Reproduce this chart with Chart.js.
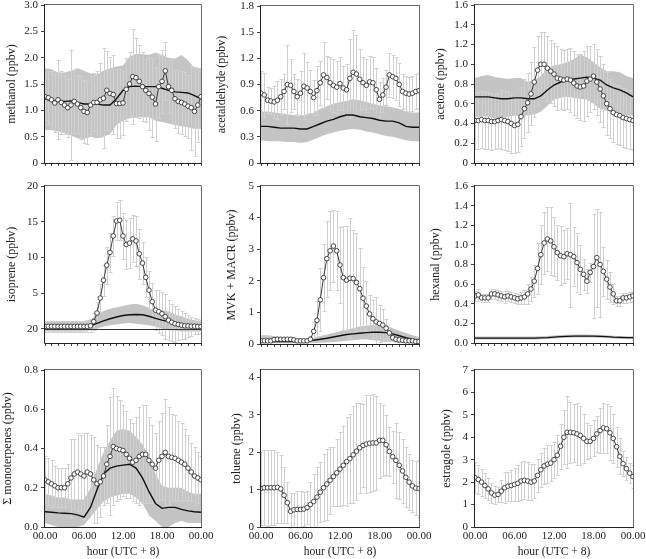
<!DOCTYPE html>
<html><head><meta charset="utf-8">
<script src="https://cdn.jsdelivr.net/npm/chart.js"></script>
<style>
html,body{margin:0;padding:0;background:#fff;width:646px;height:559px;overflow:hidden;position:relative}
canvas{position:absolute}
</style></head>
<body>
<script>
// ---- categories ----
const halfHours = [0,0.5,1,1.5,2,2.5,3,3.5,4,4.5,5,5.5,6,6.5,7,7.5,8,8.5,9,9.5,10,10.5,11,11.5,12,12.5,13,13.5,14,14.5,15,15.5,16,16.5,17,17.5,18,18.5,19,19.5,20,20.5,21,21.5,22,22.5,23,23.5,24];
const hours = [0,1,2,3,4,5,6,7,8,9,10,11,12,13,14,15,16,17,18,19,20,21,22,23,24];
const xTickVals = [0,6,12,18,24];
const xTickLabels = ['00.00','06.00','12.00','18.00','00.00'];
const xTitle = 'hour (UTC + 8)';

// ---- methanol ----
const methanolObs = [1.26,1.24,1.20,1.14,1.20,1.15,1.10,1.05,1.10,1.17,1.12,1.05,0.98,0.96,1.10,1.15,1.15,1.20,1.23,1.38,1.32,1.30,1.13,1.13,1.14,1.40,1.50,1.64,1.62,1.55,1.45,1.38,1.32,1.25,1.12,1.45,1.55,1.75,1.45,1.38,1.22,1.17,1.15,1.12,1.08,1.05,0.98,1.10,1.26];
const methanolErr = [0.45,0.5,0.55,0.55,0.75,0.6,0.55,0.55,1.05,0.6,0.55,0.6,0.6,0.6,0.55,0.55,0.6,0.7,0.95,0.75,0.7,0.75,0.65,0.65,0.6,0.6,0.6,0.9,0.75,0.7,0.65,0.6,0.7,0.75,0.7,0.6,0.6,0.55,0.5,0.6,0.55,0.6,0.6,0.6,0.6,0.8,0.85,0.7,0.5];
const methanolModel = [1.22,1.18,1.17,1.17,1.18,1.15,1.12,1.12,1.12,1.10,1.10,1.22,1.38,1.45,1.46,1.45,1.45,1.45,1.42,1.38,1.35,1.34,1.33,1.28,1.22];
const methanolHi = [1.80,1.78,1.72,1.72,1.75,1.80,1.75,1.70,1.68,1.75,1.80,1.83,1.85,2.02,2.07,2.07,2.05,2.10,2.05,2.00,1.98,2.05,1.95,1.80,1.80];
const methanolLo = [0.63,0.62,0.60,0.57,0.52,0.47,0.45,0.50,0.47,0.50,0.55,0.72,0.80,0.85,0.87,0.87,0.87,0.80,0.78,0.75,0.72,0.70,0.68,0.65,0.65];
const methanolTickVals = [0,0.5,1,1.5,2,2.5,3];
const methanolTickLabels = ['0','0.5','1.0','1.5','2.0','2.5','3.0'];

// ---- acetaldehyde ----
const acetaldehydeObs = [0.80,0.78,0.72,0.71,0.70,0.72,0.76,0.82,0.90,0.89,0.82,0.76,0.80,0.88,0.86,0.82,0.75,0.83,0.92,1.01,0.98,0.92,0.89,0.87,0.91,0.86,0.84,0.97,1.04,1.02,0.96,0.92,0.89,0.93,0.92,0.84,0.73,0.78,0.87,1.01,0.99,0.97,0.90,0.82,0.80,0.79,0.80,0.82,0.83];
const acetaldehydeErr = [0.25,0.25,0.15,0.15,0.18,0.22,0.2,0.2,0.45,0.3,0.2,0.2,0.25,0.38,0.3,0.25,0.2,0.28,0.25,0.38,0.25,0.3,0.3,0.3,0.3,0.25,0.3,0.45,0.48,0.45,0.35,0.3,0.3,0.3,0.3,0.25,0.2,0.2,0.2,0.25,0.25,0.25,0.25,0.2,0.2,0.2,0.2,0.2,0.2];
const acetaldehydeModel = [0.42,0.42,0.41,0.40,0.40,0.40,0.39,0.39,0.42,0.45,0.48,0.50,0.53,0.55,0.55,0.53,0.52,0.51,0.49,0.48,0.48,0.46,0.42,0.41,0.41];
const acetaldehydeHi = [0.59,0.59,0.58,0.57,0.56,0.55,0.54,0.55,0.58,0.62,0.65,0.68,0.70,0.71,0.73,0.72,0.70,0.68,0.66,0.65,0.64,0.62,0.59,0.58,0.58];
const acetaldehydeLo = [0.26,0.25,0.25,0.25,0.24,0.24,0.23,0.24,0.27,0.30,0.33,0.35,0.37,0.38,0.39,0.38,0.36,0.35,0.33,0.31,0.30,0.28,0.26,0.25,0.25];
const acetaldehydeTickVals = [0,0.3,0.6,0.9,1.2,1.5,1.8];
const acetaldehydeTickLabels = ['0','0.3','0.6','0.9','1.2','1.5','1.8'];

// ---- acetone ----
const acetoneObs = [0.43,0.43,0.44,0.43,0.43,0.42,0.42,0.43,0.44,0.43,0.42,0.40,0.38,0.39,0.47,0.55,0.61,0.70,0.82,0.94,1.00,1.00,0.96,0.93,0.90,0.86,0.85,0.84,0.85,0.84,0.81,0.78,0.77,0.78,0.83,0.85,0.88,0.82,0.75,0.68,0.60,0.55,0.51,0.49,0.48,0.46,0.45,0.44,0.43];
const acetoneErr = [0.29,0.29,0.29,0.29,0.29,0.29,0.28,0.28,0.3,0.3,0.3,0.3,0.28,0.28,0.3,0.3,0.3,0.32,0.35,0.35,0.33,0.33,0.33,0.32,0.32,0.32,0.3,0.3,0.3,0.32,0.32,0.32,0.33,0.35,0.35,0.33,0.33,0.33,0.33,0.32,0.32,0.3,0.3,0.3,0.3,0.3,0.3,0.3,0.3];
const acetoneModel = [0.67,0.67,0.67,0.66,0.65,0.65,0.66,0.66,0.65,0.65,0.68,0.74,0.79,0.82,0.84,0.85,0.86,0.87,0.86,0.84,0.79,0.76,0.74,0.71,0.67];
const acetoneHi = [0.86,0.88,0.89,0.87,0.86,0.85,0.86,0.86,0.82,0.84,0.88,0.96,0.99,1.00,1.02,1.05,1.10,1.07,1.02,0.97,0.93,0.93,0.92,0.88,0.86];
const acetoneLo = [0.46,0.47,0.47,0.45,0.46,0.47,0.48,0.47,0.48,0.49,0.52,0.58,0.64,0.66,0.67,0.66,0.65,0.64,0.60,0.55,0.53,0.52,0.50,0.48,0.48];
const acetoneTickVals = [0,0.2,0.4,0.6,0.8,1.0,1.2,1.4,1.6];
const acetoneTickLabels = ['0','0.2','0.4','0.6','0.8','1.0','1.2','1.4','1.6'];

// ---- isoprene ----
const isopreneObs = [0.33,0.33,0.33,0.33,0.33,0.33,0.33,0.33,0.33,0.33,0.33,0.33,0.33,0.33,0.4,1.0,2.2,4.3,6.8,8.9,10.7,13.0,15.1,15.2,13.0,11.8,12.0,12.6,12.3,10.5,9.2,7.2,5.4,3.8,2.6,2.4,2.1,1.7,1.2,0.9,0.7,0.6,0.5,0.4,0.4,0.35,0.35,0.3,0.3];
const isopreneErr = [0.8,0.8,0.8,0.8,0.8,0.8,0.8,0.8,0.8,0.8,0.8,0.8,0.8,0.8,0.9,1.2,1.5,2.0,2.2,2.6,2.7,2.8,2.6,2.8,3.2,3.5,3.5,3.3,3.5,3.5,3.0,2.8,2.7,2.6,2.8,3.0,3.0,3.2,2.8,2.6,2.5,2.2,2.0,1.8,1.5,1.3,1.1,1.0,0.9];
const isopreneModel = [0.25,0.25,0.25,0.25,0.25,0.25,0.28,0.4,0.75,1.1,1.4,1.65,1.85,1.95,2.0,1.95,1.75,1.45,1.2,1.0,0.8,0.62,0.5,0.4,0.35];
const isopreneHi = [1.1,1.1,1.1,1.1,1.1,1.1,1.1,1.3,2.0,2.5,2.8,3.0,3.2,3.4,3.5,3.3,2.9,2.6,2.6,2.4,2.0,1.7,1.4,1.2,1.1];
const isopreneLo = [-0.4,-0.4,-0.4,-0.4,-0.4,-0.4,-0.4,-0.2,0.0,0.3,0.5,0.6,0.75,0.8,0.7,0.6,0.5,0.3,0.0,-0.2,-0.3,-0.4,-0.4,-0.4,-0.4];
const isopreneTickVals = [0,5,10,15,20];
const isopreneTickLabels = ['20','5','10','15','20'];

// ---- MVK + MACR ----
const mvkObs = [0.1,0.1,0.1,0.1,0.14,0.15,0.15,0.15,0.15,0.15,0.13,0.1,0.1,0.1,0.1,0.15,0.4,0.75,1.4,2.1,2.7,2.95,3.1,2.95,2.5,2.1,2.02,2.08,2.07,1.95,1.75,1.45,1.2,0.95,0.8,0.7,0.65,0.6,0.5,0.35,0.2,0.15,0.13,0.12,0.1,0.1,0.1,0.08,0.08];
const mvkErr = [0.05,0.05,0.05,0.05,0.06,0.06,0.06,0.06,0.06,0.06,0.05,0.05,0.05,0.05,0.05,0.1,0.3,0.6,1.0,1.05,1.2,1.25,1.15,1.25,1.2,1.65,1.7,1.9,1.55,1.55,1.3,1.0,0.8,0.6,0.6,0.8,0.6,0.5,0.3,0.2,0.1,0.08,0.06,0.05,0.05,0.05,0.05,0.05,0.05];
const mvkModel = [0.08,0.08,0.08,0.08,0.08,0.08,0.09,0.1,0.12,0.15,0.18,0.22,0.26,0.3,0.32,0.34,0.36,0.37,0.37,0.36,0.32,0.26,0.2,0.15,0.12];
const mvkHi = [0.28,0.28,0.25,0.22,0.2,0.18,0.17,0.17,0.2,0.25,0.3,0.35,0.4,0.45,0.5,0.55,0.58,0.6,0.58,0.55,0.5,0.42,0.35,0.28,0.22];
const mvkLo = [0.02,0.02,0.02,0.02,0.02,0.02,0.02,0.02,0.03,0.04,0.05,0.06,0.08,0.1,0.12,0.14,0.15,0.12,0.1,0.08,0.06,0.04,0.03,0.02,0.02];
const mvkTickVals = [0,1,2,3,4,5];
const mvkTickLabels = ['0','1','2','3','4','5'];

// ---- hexanal ----
const hexanalObs = [0.48,0.49,0.46,0.46,0.46,0.50,0.50,0.49,0.48,0.47,0.48,0.47,0.46,0.45,0.46,0.47,0.50,0.55,0.63,0.76,0.90,1.02,1.06,1.04,0.98,0.92,0.89,0.88,0.91,0.90,0.88,0.82,0.75,0.70,0.63,0.72,0.78,0.87,0.80,0.73,0.65,0.57,0.50,0.43,0.43,0.46,0.46,0.47,0.48];
const hexanalErr = [0.05,0.06,0.04,0.04,0.04,0.05,0.05,0.05,0.05,0.06,0.05,0.05,0.05,0.05,0.06,0.07,0.1,0.12,0.16,0.26,0.3,0.32,0.33,0.35,0.3,0.28,0.3,0.27,0.26,0.53,0.3,0.3,0.25,0.16,0.12,0.1,0.53,0.5,0.53,0.25,0.2,0.15,0.1,0.05,0.05,0.05,0.05,0.05,0.05];
const hexanalModel = [0.05,0.05,0.05,0.05,0.05,0.05,0.05,0.05,0.05,0.05,0.052,0.055,0.06,0.065,0.068,0.07,0.07,0.07,0.07,0.068,0.065,0.06,0.057,0.055,0.055];
const hexanalHi = [0.065,0.065,0.065,0.065,0.065,0.065,0.065,0.065,0.065,0.066,0.068,0.071,0.076,0.081,0.084,0.086,0.086,0.086,0.085,0.083,0.08,0.075,0.072,0.07,0.07];
const hexanalLo = [0.035,0.035,0.035,0.035,0.035,0.035,0.035,0.035,0.035,0.035,0.037,0.04,0.045,0.05,0.053,0.055,0.055,0.055,0.055,0.053,0.05,0.045,0.042,0.04,0.04];
const hexanalTickVals = [0,0.2,0.4,0.6,0.8,1.0,1.2,1.4,1.6];
const hexanalTickLabels = ['0.0','0.2','0.4','0.6','0.8','1.0','1.2','1.4','1.6'];

// ---- monoterpenes ----
const monoObs = [0.24,0.23,0.22,0.21,0.20,0.20,0.20,0.22,0.25,0.27,0.28,0.27,0.26,0.28,0.27,0.24,0.22,0.23,0.26,0.32,0.36,0.41,0.40,0.395,0.39,0.37,0.35,0.33,0.34,0.36,0.37,0.37,0.34,0.32,0.30,0.34,0.36,0.38,0.36,0.355,0.35,0.34,0.33,0.32,0.30,0.28,0.26,0.25,0.24];
const monoErr = [0.12,0.12,0.12,0.1,0.1,0.1,0.1,0.1,0.2,0.18,0.2,0.2,0.22,0.2,0.2,0.22,0.2,0.18,0.15,0.2,0.3,0.3,0.27,0.25,0.23,0.22,0.2,0.2,0.22,0.25,0.25,0.25,0.22,0.2,0.18,0.2,0.22,0.27,0.25,0.22,0.22,0.2,0.2,0.18,0.17,0.15,0.15,0.13,0.12];
const monoModel = [0.078,0.075,0.072,0.07,0.068,0.062,0.05,0.1,0.19,0.27,0.3,0.31,0.315,0.32,0.3,0.25,0.18,0.12,0.095,0.1,0.1,0.09,0.082,0.078,0.075];
const monoHi = [0.17,0.16,0.15,0.15,0.14,0.14,0.14,0.2,0.3,0.38,0.44,0.49,0.5,0.49,0.46,0.42,0.36,0.27,0.21,0.2,0.2,0.2,0.18,0.17,0.17];
const monoLo = [0.02,0.01,0.0,0.0,0.0,0.0,0.01,0.05,0.09,0.13,0.15,0.16,0.17,0.17,0.15,0.12,0.06,0.03,0.0,0.0,0.02,0.03,0.02,0.02,0.02];
const monoTickVals = [0,0.2,0.4,0.6,0.8];
const monoTickLabels = ['0.0','0.2','0.4','0.6','0.8'];

// ---- toluene ----
const tolueneObs = [1.03,1.05,1.05,1.05,1.05,1.06,1.02,0.85,0.65,0.42,0.46,0.47,0.47,0.48,0.52,0.6,0.68,0.8,0.93,1.05,1.15,1.25,1.35,1.45,1.55,1.65,1.75,1.83,1.93,2.03,2.12,2.18,2.22,2.24,2.25,2.25,2.32,2.32,2.2,2.02,1.88,1.78,1.65,1.5,1.33,1.2,1.1,1.04,1.03];
const tolueneErr = [0.97,1.0,1.02,1.0,1.0,0.95,0.9,0.75,0.55,0.5,0.45,0.5,0.48,0.45,0.45,0.6,0.75,0.8,0.8,0.9,0.95,0.9,0.8,0.9,1.0,1.05,1.2,1.2,1.3,1.3,1.2,1.1,1.3,1.3,1.3,1.25,1.0,0.95,0.8,0.65,0.7,1.0,0.9,0.85,0.8,0.75,0.7,0.72,0.75];
const tolueneTickVals = [0,1,2,3,4];
const tolueneTickLabels = ['0','1','2','3','4'];

// ---- estragole ----
const estragoleObs = [2.2,2.12,2.0,1.85,1.7,1.52,1.42,1.45,1.6,1.75,1.82,1.85,1.9,1.95,2.05,2.08,2.05,2.0,2.05,2.3,2.55,2.72,2.8,2.85,3.0,3.2,3.6,4.0,4.22,4.22,4.2,4.15,4.08,3.95,3.82,3.82,3.95,4.15,4.3,4.42,4.38,4.2,3.95,3.58,3.15,2.82,2.6,2.4,2.25];
const estragoleErr = [0.7,0.65,0.6,0.55,0.5,0.45,0.4,0.35,0.5,0.7,0.65,0.7,0.75,0.8,0.85,0.85,0.85,0.8,0.75,0.75,0.75,0.8,0.85,0.8,0.8,0.9,1.0,1.2,1.6,1.35,1.3,1.4,1.3,1.1,0.8,0.75,0.8,0.8,1.0,1.1,1.1,1.2,1.1,0.9,0.8,0.55,0.5,0.45,0.5];
const estragoleTickVals = [0,1,2,3,4,5,6,7];
const estragoleTickLabels = ['0','1','2','3','4','5','6','7'];

// ---- panel layout (plot rectangles: left, top, right, bottom) ----
const panels = [
 {rect:[45,5,201,163], title:'methanol (ppbv)', td:33, min:0, max:3, tv:methanolTickVals, tl:methanolTickLabels, obs:methanolObs, err:methanolErr, model:methanolModel, hi:methanolHi, lo:methanolLo},
 {rect:[261,6,419,163], title:'acetaldehyde (ppbv)', td:39, min:0, max:1.8, tv:acetaldehydeTickVals, tl:acetaldehydeTickLabels, obs:acetaldehydeObs, err:acetaldehydeErr, model:acetaldehydeModel, hi:acetaldehydeHi, lo:acetaldehydeLo},
 {rect:[475,5,633,163], title:'acetone (ppbv)', td:34, min:0, max:1.6, tv:acetoneTickVals, tl:acetoneTickLabels, obs:acetoneObs, err:acetoneErr, model:acetoneModel, hi:acetoneHi, lo:acetoneLo},
 {rect:[45,186,201,343], title:'isoprene (ppbv)', td:33, min:-2, max:20, tv:isopreneTickVals, tl:isopreneTickLabels, obs:isopreneObs, err:isopreneErr, model:isopreneModel, hi:isopreneHi, lo:isopreneLo, zero:true},
 {rect:[261,186,419,344], title:'MVK + MACR (ppbv)', td:29, min:0, max:5, tv:mvkTickVals, tl:mvkTickLabels, obs:mvkObs, err:mvkErr, model:mvkModel, hi:mvkHi, lo:mvkLo},
 {rect:[475,186,633,343], title:'hexanal (ppbv)', td:39, min:0, max:1.6, tv:hexanalTickVals, tl:hexanalTickLabels, obs:hexanalObs, err:hexanalErr, model:hexanalModel, hi:hexanalHi, lo:hexanalLo},
 {rect:[45,370,201,527], title:'Σ monoterpenes (ppbv)', td:37, min:0, max:0.8, tv:monoTickVals, tl:monoTickLabels, obs:monoObs, err:monoErr, model:monoModel, hi:monoHi, lo:monoLo, bottom:true},
 {rect:[261,370,419,527], title:'toluene (ppbv)', td:24, min:0, max:4.2, tv:tolueneTickVals, tl:tolueneTickLabels, obs:tolueneObs, err:tolueneErr, bottom:true},
 {rect:[475,370,633,527], title:'estragole (ppbv)', td:28, min:0, max:7, tv:estragoleTickVals, tl:estragoleTickLabels, obs:estragoleObs, err:estragoleErr, bottom:true}
];

const FONT = "'Liberation Serif','Times New Roman',serif";
const TXT = '#222';

function makeChart(p){
  const Yw=50, padT=6, padR=20, Xh = p.bottom ? 32 : 8;
  const [l,t,r,b] = p.rect;
  const W = Yw + (r-l) + padR, H = padT + (b-t) + Xh;
  const c = document.createElement('canvas');
  c.width = W; c.height = H;
  c.style.left = (l-Yw)+'px'; c.style.top = (t-padT)+'px';
  c.style.width = W+'px'; c.style.height = H+'px';
  document.body.appendChild(c);

  const datasets = [{
    data: halfHours.map((h,i)=>({x:h, y:p.obs[i]})),
    borderColor:'#3a3a3a', borderWidth:1, tension:0, fill:false,
    pointRadius:2.3, pointBackgroundColor:'#fff', pointBorderColor:'#333', pointBorderWidth:0.9
  }];
  if (p.model){
    datasets.push({data: hours.map((h,i)=>({x:h,y:p.model[i]})), borderColor:'#111', borderWidth:1.4, pointRadius:0, fill:false, tension:0});
    datasets.push({data: hours.map((h,i)=>({x:h,y:p.hi[i]})), borderColor:'rgba(0,0,0,0)', borderWidth:0, pointRadius:0, backgroundColor:'#c4c4c4', fill:'+1', tension:0});
    datasets.push({data: hours.map((h,i)=>({x:h,y:p.lo[i]})), borderColor:'rgba(0,0,0,0)', borderWidth:0, pointRadius:0, fill:false, tension:0});
  }
  const hostIndex = p.model ? 1 : 0;

  const panelPlugin = {
    id:'panelDecor',
    beforeDatasetsDraw(chart){
      const ctx=chart.ctx, a=chart.chartArea;
      ctx.save();
      ctx.lineWidth=1;
      ctx.strokeStyle='#6a6a6a';
      ctx.beginPath();
      ctx.moveTo(a.left-1, a.top-0.5); ctx.lineTo(a.right+0.5, a.top-0.5); ctx.lineTo(a.right+0.5, a.bottom+1);
      ctx.stroke();
      ctx.strokeStyle='#222';
      ctx.beginPath();
      ctx.moveTo(a.left-0.5, a.top-1); ctx.lineTo(a.left-0.5, a.bottom+0.5); ctx.lineTo(a.right+1, a.bottom+0.5);
      ctx.stroke();
      ctx.restore();
    },
    beforeDatasetDraw(chart, args){
      if (args.index !== hostIndex) return;
      const ctx=chart.ctx, xs=chart.scales.x, ys=chart.scales.y, a=chart.chartArea;
      ctx.save();
      ctx.beginPath(); ctx.rect(a.left, a.top, a.right-a.left, a.bottom-a.top); ctx.clip();
      ctx.strokeStyle='#d0d0d0'; ctx.lineWidth=1;
      ctx.beginPath();
      halfHours.forEach((h,i)=>{
        const x = Math.round(xs.getPixelForValue(h)) + 0.5;
        const y1 = Math.round(ys.getPixelForValue(p.obs[i]+p.err[i])) + 0.5;
        const y2 = Math.round(ys.getPixelForValue(p.obs[i]-p.err[i])) + 0.5;
        ctx.moveTo(x,y1); ctx.lineTo(x,y2);
        ctx.moveTo(x-2,y1); ctx.lineTo(x+2,y1);
        ctx.moveTo(x-2,y2); ctx.lineTo(x+2,y2);
      });
      ctx.stroke();
      if (p.zero){
        const y0 = Math.round(ys.getPixelForValue(0)) + 0.5;
        ctx.strokeStyle='#333'; ctx.lineWidth=1;
        ctx.beginPath(); ctx.moveTo(a.left, y0); ctx.lineTo(a.right, y0); ctx.stroke();
      }
      ctx.restore();
    }
  };

  const xScale = {
    type:'linear', min:0, max:24,
    afterBuildTicks: s => { s.ticks = (p.bottom ? xTickVals : hours).map(v=>({value:v})); },
    afterFit: s => { s.height = Xh; s.paddingLeft = 0; s.paddingRight = 0; },
    border:{display:false},
    grid:{display:true, drawOnChartArea:false, drawTicks:!p.bottom, tickLength:3, color:'#444', lineWidth:1},
    ticks:{display:!!p.bottom, padding:3, maxRotation:0, autoSkip:false, color:TXT,
      font:{family:FONT, size:11},
      callback:(v,i)=> p.bottom ? xTickLabels[i] : ''},
    title:{display:!!p.bottom, text:xTitle, color:TXT, font:{family:FONT, size:11.5}, padding:{top:0,bottom:0}}
  };
  const yScale = {
    type:'linear', min:p.min, max:p.max,
    afterBuildTicks: s => { s.ticks = p.tv.map(v=>({value:v})); },
    afterFit: s => { s.width = Yw; s.paddingTop = 0; s.paddingBottom = 0; },
    border:{display:false},
    grid:{display:true, drawOnChartArea:false, drawTicks:true, tickLength:4, color:'#444', lineWidth:1},
    ticks:{padding:3, color:TXT, font:{family:FONT, size:11}, autoSkip:false,
      callback:(v,i)=> p.tl[i]},
    title:{display:true, text:p.title, color:TXT, font:{family:FONT, size:12},
      padding:{top: Math.max(0, Yw - p.td - 7.2), bottom:0}}
  };

  new Chart(c, {
    type:'line',
    data:{datasets},
    options:{
      responsive:false, animation:false, devicePixelRatio:1,
      layout:{padding:{top:padT, right:padR, left:0, bottom:0}},
      plugins:{legend:{display:false}, tooltip:{enabled:false}},
      scales:{x:xScale, y:yScale}
    },
    plugins:[panelPlugin]
  });
}

panels.forEach(makeChart);
</script>
</body></html>
